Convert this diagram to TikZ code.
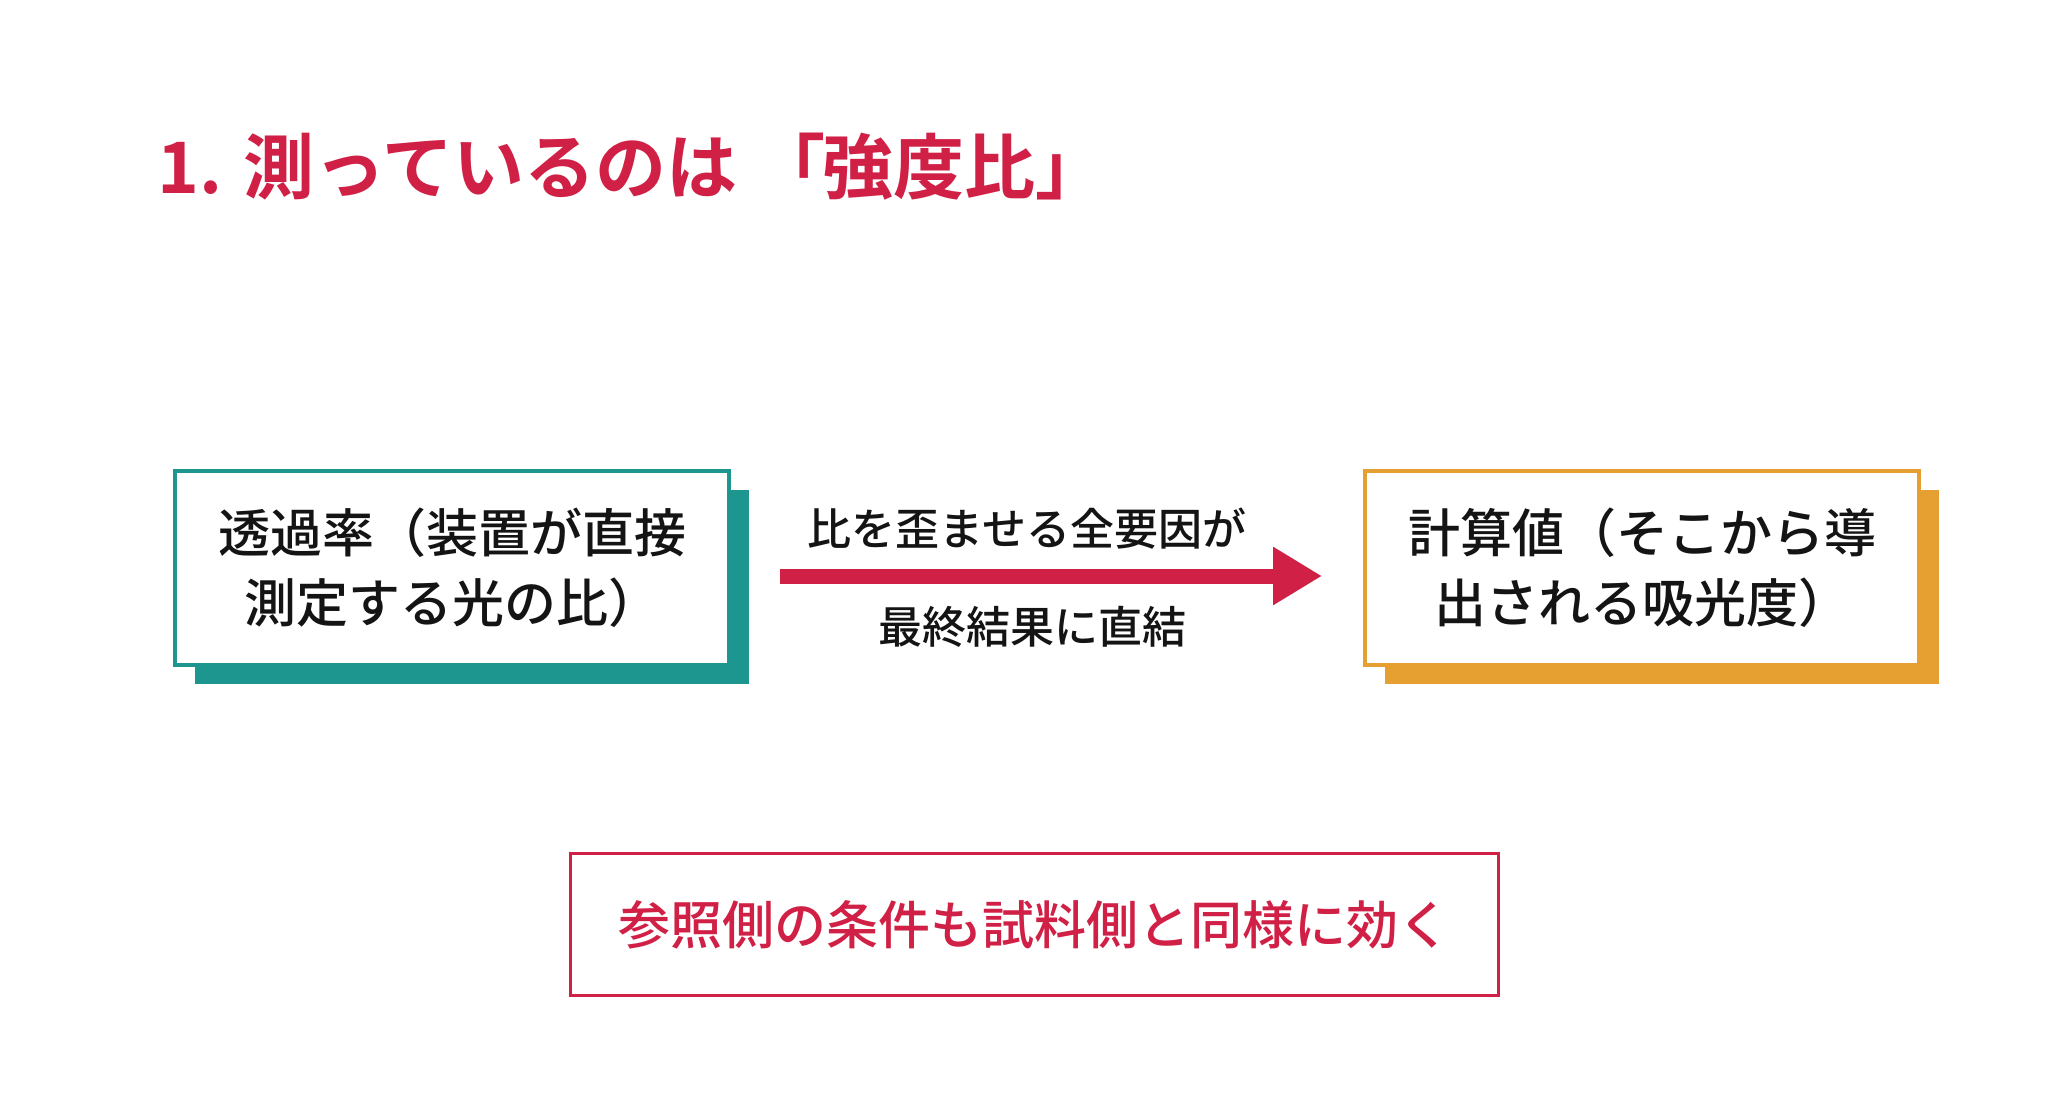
\documentclass[tikz,border=0pt]{standalone}
\usepackage{fontspec}
\setmainfont{Noto Sans CJK JP}
\newfontfamily\medjp{Noto Sans CJK JP Medium}
\newfontfamily\boldjp{Noto Sans CJK JP Bold}
\usetikzlibrary{arrows.meta,shadows}
\definecolor{crim}{RGB}{209,32,70}
\definecolor{tealc}{RGB}{30,150,144}
\definecolor{orng}{RGB}{230,160,50}
\definecolor{inkc}{RGB}{20,20,20}
\begin{document}
\begin{tikzpicture}[x=0.5pt,y=-0.5pt,
  card/.style={draw=#1, line width=2pt, fill=white, minimum width=277pt,
    minimum height=97pt, inner sep=0pt, align=center, text=inkc,
    font=\medjp\fontsize{26pt}{35pt}\selectfont,
    general shadow={fill=#1, shadow xshift=10pt, shadow yshift=-9.5pt}},
  notebox/.style={draw=crim, line width=1.25pt, fill=white, minimum width=464pt,
    minimum height=71pt, inner sep=0pt, text=crim,
    font=\medjp\fontsize{26pt}{35pt}\selectfont},
  arrowlabel/.style={text=inkc, inner sep=0pt, font=\medjp\fontsize{22pt}{28pt}\selectfont},
  flow/.style={line width=7.5pt, draw=crim, -{Triangle[length=24.5pt,width=27.5pt]}},
  titletext/.style={text=crim, inner sep=0pt, font=\boldjp\fontsize{35.5pt}{40pt}\selectfont}]
\useasboundingbox[fill=white] (0,0) rectangle (2064,1101);
\node[titletext, anchor=base west] (title) at (157,194) {1. 測っているのは\rlap{\kern0.24em「}\kern1.2em 強度比」};
\node[card=tealc] (L) at (452,568) {透過率（装置が直接\\測定する光の比）};
\node[card=orng] (R) at (1642,568) {計算値（そこから導\\出される吸光度）};
\draw[flow, shorten <=24.5pt, shorten >=20.5pt] ([yshift=-4pt]L.east) -- ([yshift=-4pt]R.west);
\node[arrowlabel] (lab1) at (1027,529) {比を歪ませる全要因が};
\node[arrowlabel] (lab2) at (1032,627) {最終結果に直結};
\node[notebox] (note) at (1034.5,924.5) {参照側の条件も試料側と同様に効く};
\end{tikzpicture}
\end{document}
